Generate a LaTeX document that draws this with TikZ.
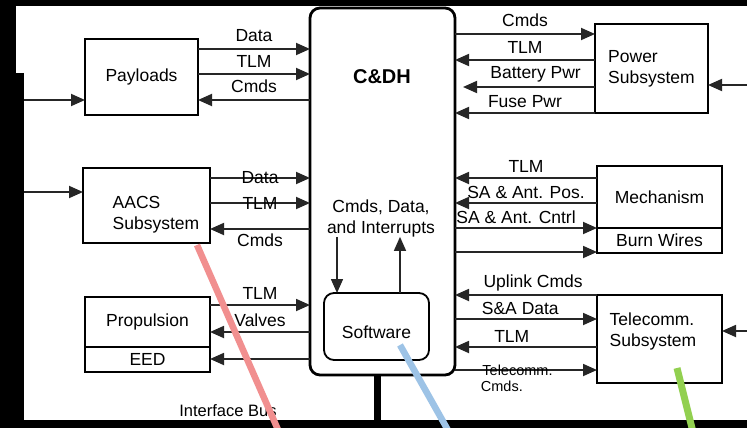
\documentclass[tikz,border=0pt]{standalone}
\usepackage{fontspec}
\setmainfont{Liberation Sans}
\usetikzlibrary{arrows.meta}
\definecolor{pinkmark}{RGB}{241,143,143}
\definecolor{bluemark}{RGB}{157,195,230}
\definecolor{greenmark}{RGB}{146,208,80}
\tikzset{
  box/.style={draw, line width=2.5pt, outer sep=0pt, inner sep=0pt, font=\fontsize{17.5}{21}\selectfont},
  txt/.style={inner sep=0pt, font=\fontsize{17.5}{21}\selectfont},
  lab/.style={inner sep=1pt, font=\fontsize{17.5}{20}\selectfont},
  small/.style={inner sep=1pt, font=\fontsize{14.5}{16}\selectfont},
  sig/.style={draw=black!85, line width=1.8pt, -{Triangle[length=14pt,width=12pt]}},
}
\begin{document}
\begin{tikzpicture}[x=1pt,y=-1pt]
                \useasboundingbox (0,0) rectangle (747,428);
                \fill[black] (0,0) rectangle (747,428);
                \fill[white] (16,6) rectangle (747,420);

                %Nodes
                \node[box, rounded corners=10pt, line width=2.8pt, minimum width=145pt, minimum height=367pt] at (382.5,191.5) (cdh) {};
                \node[txt, font=\bfseries\fontsize{20}{22}\selectfont] at (382,77) (cdhT) {C\&DH};
                \node[txt, align=center] at (381,218) (cdhI) {Cmds, Data,\\and Interrupts};
                \node[box, rounded corners=10pt, line width=1.8pt, minimum width=105pt, minimum height=67pt, text height=25pt] at (376.5,326.5) (sw) {Software};

                \node[box, minimum width=113pt, minimum height=76pt] at (141.5,77) (pay) {Payloads};
                \node[box, minimum width=127pt, minimum height=75pt] at (146.5,205.5) (aacs) {};
                \node[txt, align=left] at (156,215) (aacsT) {AACS\\Subsystem};
                \node[box, minimum width=125pt, minimum height=50pt] at (147.5,322) (prop) {Propulsion};
                \node[box, minimum width=125pt, minimum height=25pt] at (147.5,359.5) (eed) {EED};

                \node[box, minimum width=113pt, minimum height=89pt, align=left] at (651.5,68.5) (pwr) {Power\\Subsystem};
                \node[box, minimum width=125pt, minimum height=62pt] at (659.5,197) (mech) {Mechanism};
                \node[box, minimum width=125pt, minimum height=25pt] at (659.5,240.5) (burn) {Burn Wires};
                \node[box, minimum width=125pt, minimum height=88pt] at (659.5,339) (tel) {};
                \node[txt, align=left] at (653,331) (telT) {Telecomm.\\Subsystem};

                \node[txt, font=\fontsize{16.5}{18}\selectfont] at (228,411) (ibus) {Interface Bus};

                \coordinate (lbus) at (24,0);
                \coordinate (redge) at (747,0);
                \coordinate (batt) at (463,87);

                %Buses
                \draw[line width=9pt] (19.5,73) -- (19.5,420);
                \draw[line width=7pt] (cdh.south -| 377,0) -- (377,421);

                %Lines
                \draw[sig] (lbus |- 0,100) -- (pay.west |- 0,100);
                \draw[sig] (lbus |- 0,192) -- (aacs.west |- 0,192);

                \draw[sig] (pay.east |- 0,49) -- node[lab, above=5pt] (pData) {Data} (cdh.west |- 0,49);
                \draw[sig] (pay.east |- 0,74) -- node[lab, above=5pt] (pTLM) {TLM} (cdh.west |- 0,74);
                \draw[sig] (cdh.west |- 0,100) -- node[lab, above=5pt] (pCmds) {Cmds} (pay.east |- 0,100);

                \draw[sig] (aacs.east |- 0,178) -- node[lab] (aData) {Data} (cdh.west |- 0,178);
                \draw[sig] (aacs.east |- 0,203) -- node[lab] (aTLM) {TLM} (cdh.west |- 0,203);
                \draw[sig] (cdh.west |- 0,229) -- node[lab, below=3pt] (aCmds) {Cmds} (aacs.east |- 0,229);

                \draw[sig] (prop.east |- 0,305) -- node[lab, above=4pt] (prTLM) {TLM} (cdh.west |- 0,305);
                \draw[sig] (cdh.west |- 0,332) -- node[lab, above=3pt] (prVal) {Valves} (prop.east |- 0,332);
                \draw[sig] (cdh.west |- 0,359) -- (eed.east |- 0,359);

                \draw[sig] (cdh.east |- 0,34) -- node[lab, above=5pt] (wCmds) {Cmds} (pwr.west |- 0,34);
                \draw[sig] (pwr.west |- 0,60) -- node[lab, above=5pt] (wTLM) {TLM} (cdh.east |- 0,60);
                \draw[sig] (pwr.west |- 0,87) -- node[lab, above=3pt, pos=.45] (wBat) {Battery Pwr} (batt);
                \draw[sig] (pwr.west |- 0,113) -- node[lab, above=3pt] (wFuse) {Fuse Pwr} (cdh.east |- 0,113);
                \draw[sig] (redge |- 0,85) -- (pwr.east |- 0,85);

                \draw[sig] (mech.west |- 0,178) -- node[lab, above=4pt] (mTLM) {TLM} (cdh.east |- 0,178);
                \draw[sig] (mech.west |- 0,203) -- node[lab, above=2pt] (mPos) {SA \& Ant. Pos.} (cdh.east |- 0,203);
                \draw[sig] (cdh.east |- 0,228) -- node[lab, above=2pt, pos=.43] (mCtl) {SA \& Ant. Cntrl} (mech.west |- 0,228);
                \draw[sig] (cdh.east |- 0,252) -- (burn.west |- 0,252);

                \draw[sig] (tel.north west) -- node[lab, above=2pt, pos=.45] (tUp) {Uplink Cmds} (cdh.east |- tel.north west);
                \draw[sig] (cdh.east |- 0,319) -- node[lab, above=2pt, pos=.46] (tSA) {S\&A Data} (tel.west |- 0,319);
                \draw[sig] (tel.west |- 0,347) -- node[lab, above=3pt, pos=.6] (tTLM) {TLM} (cdh.east |- 0,347);
                \draw[sig] (cdh.east |- 0,370) -- node[small, pos=.44] (tTc) {Telecomm.} node[small, pos=.33, below=9pt] (tCm) {Cmds.} (tel.west |- 0,370);
                \draw[sig] (redge |- 0,331) -- (tel.east |- 0,331);

                \draw[sig, line width=1.5pt] (cdhI.south -| 337,0) -- (sw.north -| 337,0);
                \draw[sig, line width=1.5pt] (sw.north -| 400,0) -- (cdhI.south -| 400,0);

                %Marks
                \draw[pinkmark, line width=6.5pt] (197,245) -- (279,432);
                \draw[bluemark, line width=6.5pt] (400,345) -- (449,432);
                \draw[greenmark, line width=7pt] (677,368) -- (693,432);
            \end{tikzpicture}
\end{document}
